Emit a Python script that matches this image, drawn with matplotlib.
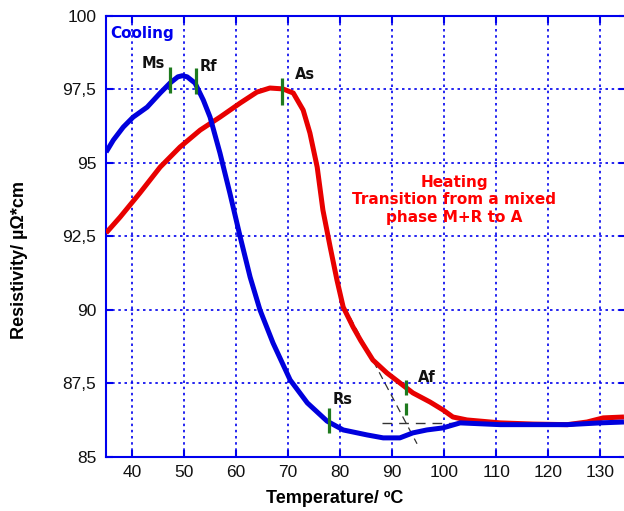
import matplotlib
matplotlib.use("Agg")
import matplotlib.pyplot as plt

# Cooling curve (blue)
cool_t = [35, 36.4, 38.3, 40.2, 42.9, 45.4, 47.3, 48.8, 49.7, 50.6, 52.1, 53.7, 55.0, 56.9,
          58.8, 60.8, 62.7, 64.6, 67.1, 70.4, 73.7, 77.5, 80.6, 85.2, 88.3, 91.5, 94.0,
          96.7, 99.8, 103.1, 110.8, 117.1, 123.7, 130, 134.6]
cool_r = [95.37, 95.78, 96.22, 96.56, 96.9, 97.38, 97.72, 97.93, 97.97, 97.93, 97.72, 97.14,
          96.56, 95.34, 93.98, 92.48, 91.12, 90.0, 88.88, 87.62, 86.84, 86.22, 85.92, 85.75,
          85.65, 85.65, 85.82, 85.92, 85.99, 86.16, 86.1, 86.1, 86.1, 86.16, 86.19]

# Heating curve (red)
heat_t = [35, 37.7, 41.5, 45.4, 49.2, 53.1, 56.9, 60.8, 64.0, 66.5, 69.0, 71.0, 72.9, 74.2,
          75.6, 76.7, 78.1, 79.4, 80.6, 82.5, 84.0, 86.3, 89.0, 91.5, 94.0, 97.3, 99.8,
          101.7, 104.4, 110.8, 117.1, 123.7, 127.5, 130.6, 134.6]
heat_r = [92.62, 93.16, 93.98, 94.86, 95.54, 96.12, 96.56, 97.04, 97.41, 97.55, 97.52, 97.38,
          96.8, 96.02, 94.86, 93.4, 92.14, 91.02, 90.1, 89.42, 88.95, 88.3, 87.86, 87.52,
          87.18, 86.87, 86.6, 86.36, 86.26, 86.16, 86.12, 86.1, 86.19, 86.33, 86.36]

# transition markers: temperature, low, high
mark_t = [47.3, 52.2, 68.8, 77.9, 92.7, 92.6]
mark_lo = [97.38, 97.35, 96.97, 85.82, 87.1, 86.43]
mark_hi = [98.27, 98.23, 97.9, 86.67, 87.62, 86.84]

# marker labels
lab_text = ["Ms", "Rf", "As", "Rs", "Af"]
lab_t = [44.0, 54.6, 73.3, 80.4, 96.7]
lab_r = [98.37, 98.27, 98.0, 86.94, 87.7]

# tangent construction lines
tan_t = [81.9, 94.8]
tan_r = [89.76, 85.45]
base_t = [88.1, 120.4]
base_r = [86.16, 86.16]

x_ticks = [40, 50, 60, 70, 80, 90, 100, 110, 120, 130]
y_ticks = [85, 87.5, 90, 92.5, 95, 97.5, 100]
y_labels = ["85", "87,5", "90", "92,5", "95", "97,5", "100"]

BLUE = "#0000ee"
fig = plt.figure(figsize=(6.24, 5.11), dpi=100)
ax = fig.add_axes([0.170, 0.1057, 0.8333, 0.8630])

ax.plot(tan_t, tan_r, color="#333333", lw=0.9, ls=(0, (6, 4)), zorder=2)
ax.plot(base_t, base_r, color="#333333", lw=1.0, ls=(0, (7, 5)), zorder=2)
ax.plot(heat_t, heat_r, color="#e80000", lw=3.6, solid_capstyle="butt",
        solid_joinstyle="round", zorder=3)
ax.plot(cool_t, cool_r, color="#0000dd", lw=3.6, solid_capstyle="butt",
        solid_joinstyle="round", zorder=4)
ax.vlines(mark_t, mark_lo, mark_hi, color="#1e7a1e", lw=2.3, zorder=5)

for s, t, r in zip(lab_text, lab_t, lab_r):
    ax.text(t, r, s, ha="center", va="center", fontsize=10.5, fontweight="bold",
            color="#111111", family="DejaVu Sans", zorder=6)

ax.text(35.8, 99.42, "Cooling", color=BLUE, fontsize=11, fontweight="bold",
        ha="left", va="center", family="DejaVu Sans")
ax.text(101.9, 93.75, "Heating\nTransition from a mixed\nphase M+R to A", color="#ff0000",
        fontsize=11, fontweight="bold", ha="center", va="center", linespacing=1.2,
        family="DejaVu Sans")

ax.set_xlim(35, 135)
ax.set_ylim(85, 100)
ax.set_xticks(x_ticks)
ax.set_yticks(y_ticks)
ax.set_yticklabels(y_labels)
ax.grid(True, color=BLUE, lw=1.2, ls=(0, (1.5, 2.2)))
ax.set_axisbelow(True)

for side in ["left", "top", "bottom"]:
    ax.spines[side].set_color(BLUE)
    ax.spines[side].set_linewidth(1.5)
ax.spines["right"].set_visible(False)
ax.tick_params(direction="in", length=5, width=1.5, color=BLUE, top=True, right=True,
               labelsize=12.5, labelcolor="#111111")
ax.tick_params(axis="x", pad=6)
ax.tick_params(axis="y", pad=7)
for lab in ax.get_xticklabels() + ax.get_yticklabels():
    lab.set_family("Liberation Sans")

ax.set_xlabel("Temperature/ ºC", fontsize=13, fontweight="bold", family="Liberation Sans")
ax.set_ylabel("Resistivity/ µΩ*cm", fontsize=13, fontweight="bold", family="Liberation Sans")
ax.xaxis.set_label_coords(0.44, -0.075)
ax.yaxis.set_label_coords(-0.151, 0.447)

fig.savefig("out.png", dpi=100)
